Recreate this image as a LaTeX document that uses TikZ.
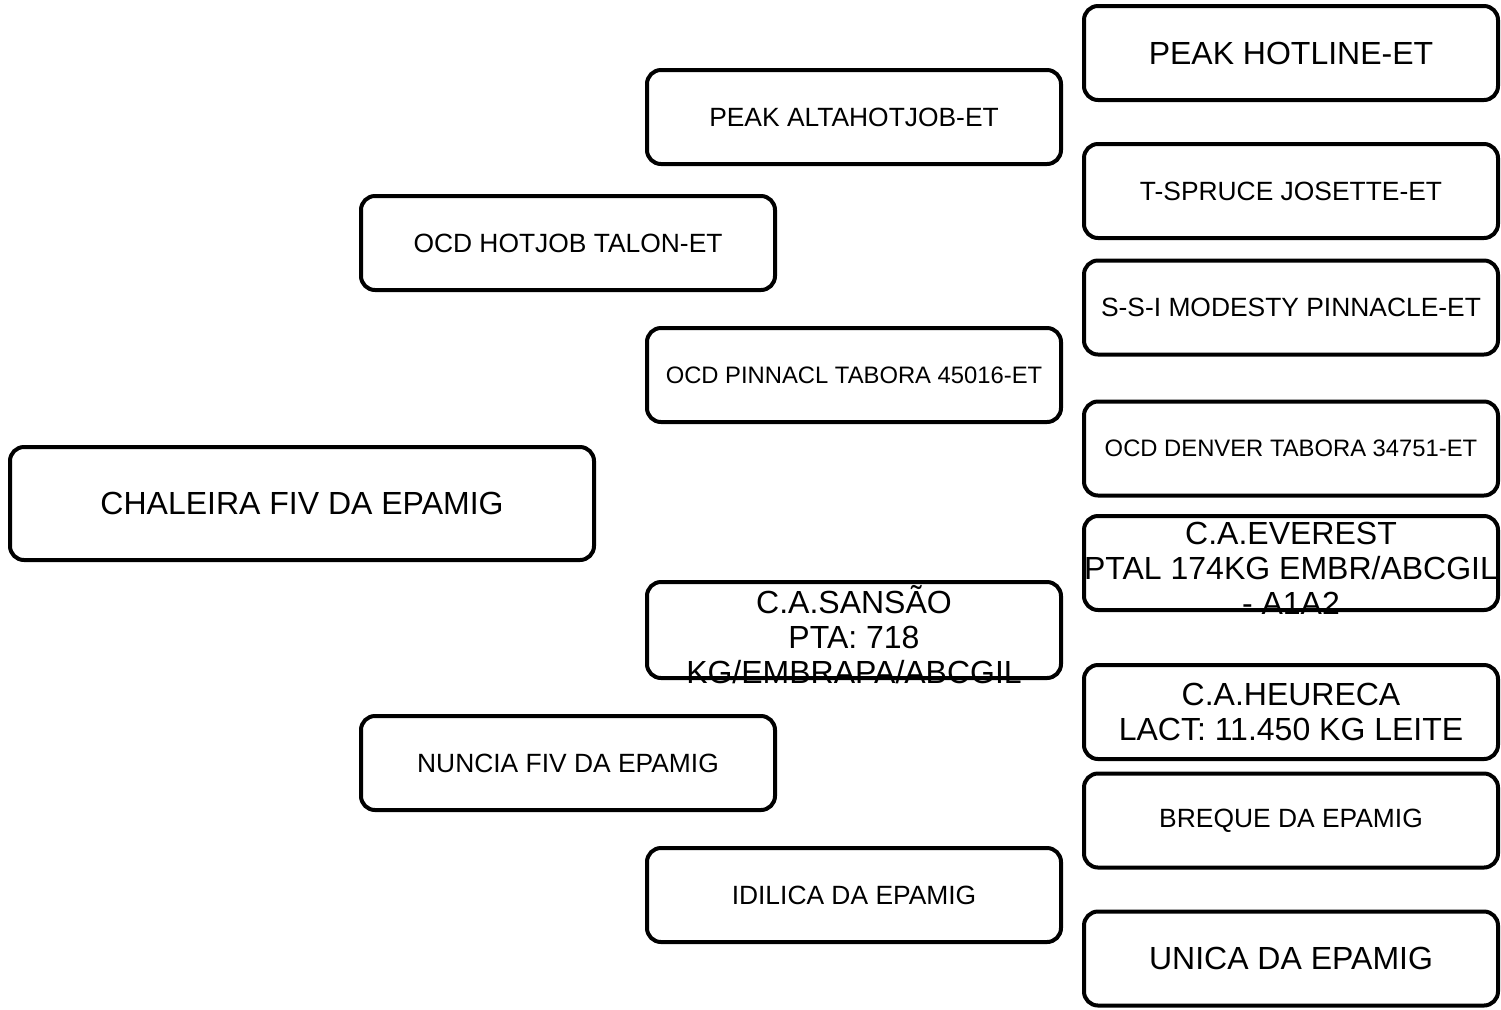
\documentclass[tikz,border=0pt]{standalone}
\usepackage{fontspec}
\setmainfont{Liberation Sans}
\begin{document}
\begin{tikzpicture}[x=0.5pt,y=-0.5pt,
  card/.style={draw,line width=2pt,rounded corners=7pt,minimum width=207pt,minimum height=47pt,inner sep=0pt},
  bigtext/.style={font=\fontsize{16}{17.5}\selectfont,align=center},
  midtext/.style={font=\fontsize{13.2}{15}\selectfont},
  smalltext/.style={font=\fontsize{11.9}{14}\selectfont}]
\useasboundingbox (0,0) rectangle (1501,1009);
\node[card,bigtext,minimum width=292pt,minimum height=56.5pt] (chaleira) at (302,503.5) {CHALEIRA FIV DA EPAMIG};
\node[card,midtext] (hotjob) at (568,243) {OCD HOTJOB TALON-ET};
\node[card,midtext] (nuncia) at (568,763) {NUNCIA FIV DA EPAMIG};
\node[card,midtext] (altahotjob) at (854,117) {PEAK ALTAHOTJOB-ET};
\node[card,smalltext] (pinnacl) at (854,375) {OCD PINNACL TABORA 45016-ET};
\node[card,minimum height=48pt] (sansao) at (854,630) {};
\node[bigtext,yshift=-2.5pt] (sansaotext) at (sansao.center) {C.A.SANSÃO\\PTA: 718\\KG/EMBRAPA/ABCGIL};
\node[card,midtext] (idilica) at (854,895) {IDILICA DA EPAMIG};
\node[card,bigtext] (hotline) at (1291,53) {PEAK HOTLINE-ET};
\node[card,midtext] (spruce) at (1291,191) {T-SPRUCE JOSETTE-ET};
\node[card,midtext] (modesty) at (1291,307.5) {S-S-I MODESTY PINNACLE-ET};
\node[card,smalltext] (denver) at (1291,448.5) {OCD DENVER TABORA 34751-ET};
\node[card] (everest) at (1291,563) {};
\node[bigtext,yshift=-2.5pt] (everesttext) at (everest.center) {C.A.EVEREST\\PTAL 174KG EMBR/ABCGIL\\- A1A2};
\node[card,bigtext] (heureca) at (1291,712) {C.A.HEURECA\\LACT: 11.450 KG LEITE};
\node[card,midtext] (breque) at (1291,820.5) {BREQUE DA EPAMIG};
\node[card,bigtext] (unica) at (1291,958.5) {UNICA DA EPAMIG};
\end{tikzpicture}
\end{document}
